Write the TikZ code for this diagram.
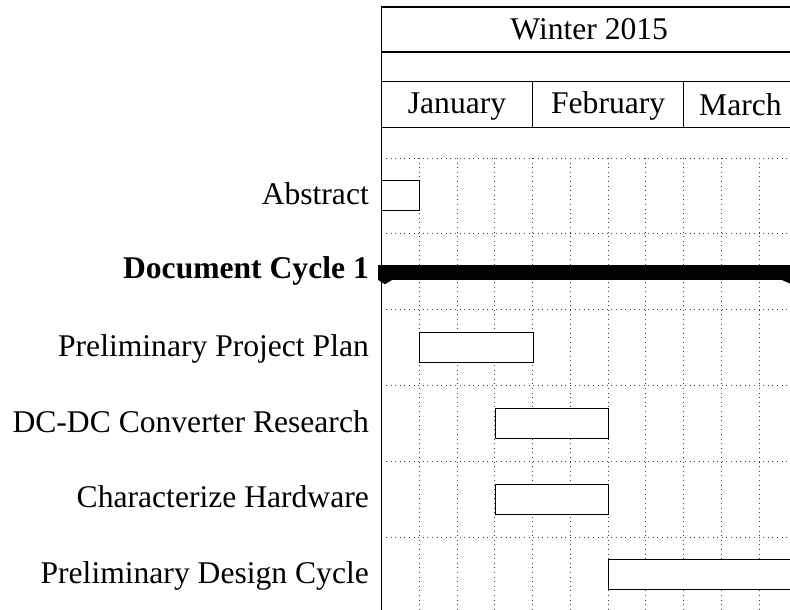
\documentclass[tikz,border=0pt]{standalone}
\usepackage{fontspec}
\setmainfont{Liberation Serif}
\tikzset{
  ganttbar/.style={draw,fill=white,line width=1pt,minimum height=30pt,inner sep=0pt,anchor=west},
  ganttlabel/.style={anchor=base east,inner sep=0pt},
  headtext/.style={anchor=base,inner sep=0pt},
  gridline/.style={line width=0.9pt,dash pattern=on 1pt off 3.6pt,black!75},
  frameline/.style={line width=1.1pt}
}
\begin{document}
\begin{tikzpicture}[x=37.78pt,y=-75.8pt,font=\fontsize{31.6pt}{38pt}\selectfont]
\clip (-10.098,-2.084) rectangle (10.813,5.963);
\foreach \i in {1,...,11} \draw[gridline] (\i,0) -- (\i,6);
\foreach \j in {0,...,6} \draw[gridline] (0,\j) -- (11.2,\j);
\draw[frameline] (0,-1.992) -- (11.2,-1.992);
\draw[frameline] (0,-1.398) -- (11.2,-1.398);
\draw[frameline] (0,-1.003) -- (11.2,-1.003);
\draw[frameline] (0,-0.396) -- (11.2,-0.396);
\draw[frameline] (4,-1.003) -- (4,-0.396);
\draw[frameline] (8,-1.003) -- (8,-0.396);
\node[headtext] (season) at (5.5,-1.563) {Winter 2015};
\node[headtext] (jan) at (2,-0.58) {January};
\node[headtext] (feb) at (6,-0.58) {February};
\node[headtext] (mar) at (9.5,-0.562) {March};
\node[ganttlabel] (abstract) at (-0.33,0.618) {Abstract};
\node[ganttlabel] (cycle) at (-0.33,1.59) {\bfseries Document Cycle 1};
\node[ganttlabel] (plan) at (-0.33,2.618) {Preliminary Project Plan};
\node[ganttlabel] (research) at (-0.33,3.618) {DC-DC Converter Research};
\node[ganttlabel] (hardware) at (-0.33,4.618) {Characterize Hardware};
\node[ganttlabel] (design) at (-0.33,5.618) {Preliminary Design Cycle};
\node[ganttbar,minimum width=1*37.78pt] (abstractbar) at (0,0.5) {};
\node[ganttbar,minimum width=3*37.78pt] (planbar) at (1,2.5) {};
\node[ganttbar,minimum width=3*37.78pt] (researchbar) at (3,3.5) {};
\node[ganttbar,minimum width=3*37.78pt] (hardwarebar) at (3,4.5) {};
\node[ganttbar,minimum width=5*37.78pt] (designbar) at (6,5.5) {};
\fill (-0.09,1.413) -- (11.1,1.413) -- (11.1,1.61) -- (10.85,1.665) -- (10.6,1.61)
  -- (0.28,1.61) -- (0.09,1.665) -- (-0.09,1.61) -- cycle;
\draw[frameline] (0,-1.992) -- (0,6);
\end{tikzpicture}
\end{document}
